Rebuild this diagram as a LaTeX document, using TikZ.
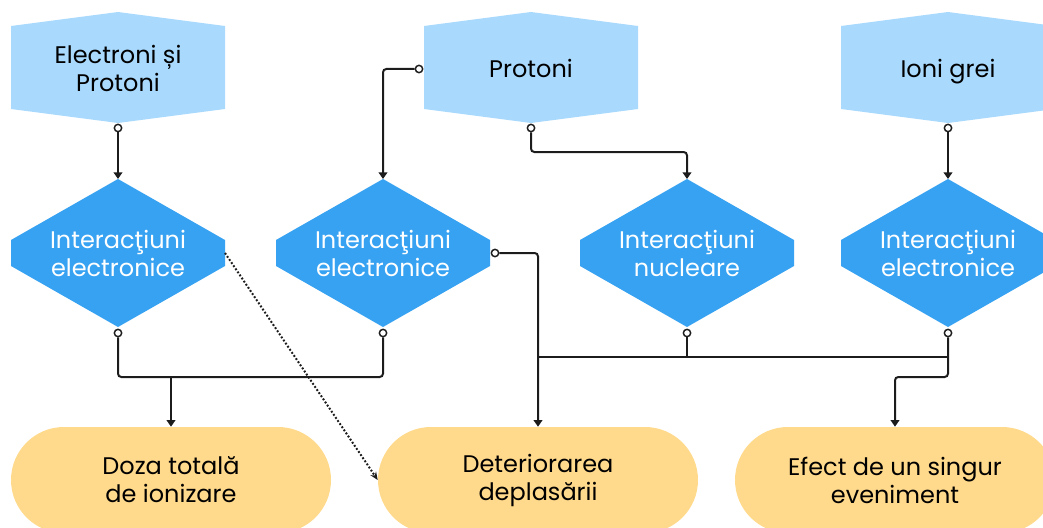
\documentclass[tikz,border=0pt]{standalone}
\usepackage{fontspec}
\setmainfont{Poppins}
\usetikzlibrary{calc,arrows.meta}
\definecolor{toplight}{RGB}{169,218,254}
\definecolor{hexblue}{RGB}{55,162,242}
\definecolor{outyellow}{RGB}{255,218,140}
\definecolor{linegray}{RGB}{28,28,28}
\def\topbox(#1,#2)#3#4{\fill[toplight] (#1-107,#2-42) -- (#1,#2-56) -- (#1+107,#2-42) -- (#1+107,#2+41) -- (#1,#2+55) -- (#1-107,#2+41) -- cycle;
	\node[toptext] (#3) at (#1,#2) {#4};}
\def\hexbox(#1,#2)#3#4{\fill[hexblue] (#1-107,#2-13) -- (#1,#2-74) -- (#1+107,#2-13) -- (#1+107,#2+13) -- (#1,#2+74) -- (#1-107,#2+13) -- cycle;
	\node[hextext] (#3) at (#1,#2) {#4};
	\coordinate (#3-t) at (#1,#2-74);}

\begin{document}
\begin{tikzpicture}[x=0.75pt, y=-0.75pt,
	every node/.style={font=\fontsize{18}{21}\selectfont},
	toptext/.style={align=center, text=black},
	hextext/.style={align=center, text=white},
	outbox/.style={fill=outyellow, rounded corners=39.75pt, minimum width=240pt, minimum height=79.5pt, align=center},
	line/.style={line width=1.5pt, color=linegray, rounded corners=2.5pt},
	arr/.style={line, -{Triangle[length=5pt,width=6.5pt]}},
	ring/.style={circle, draw=linegray, line width=1.1pt, fill=white, inner sep=0pt, minimum size=5.5pt},
	dots/.style={line width=1.5pt, dash pattern=on 1.4pt off 1.4pt, color=linegray, -{Stealth[length=6pt,width=5pt]}}]
		%%%%% START %%%%%
		\clip (0,0) rectangle (1043,528);
		
		\topbox(118,68){s1}{Electroni și\\Protoni}
		\topbox(531,68){s2}{Protoni}
		\topbox(948,68){s3}{Ioni \smash{g}rei}
		
		\hexbox(118,253){d1}{Interacţiuni\\electronice}
		\hexbox(383,253){d2}{Interacţiuni\\electronice}
		\hexbox(687,253){d3}{Interacţiuni\\nucleare}
		\hexbox(948,253){d4}{Interacţiuni\\electronice}
		
		\node[outbox] (b1) at (171,480) {Doza totală\\de ionizare};
		\node[outbox] (b2) at (538,480) {Deteriorarea\\deplasării};
		\node[outbox] (b3) at (895,480) {Efect de un singur\\eveniment};
		
		\node[ring] (s1o) at (118,128) {};
		\node[ring] (s2l) at (419,69) {};
		\node[ring] (s2o) at (531,128) {};
		\node[ring] (s3o) at (948,128) {};
		\node[ring] (d1o) at (118,333) {};
		\node[ring] (d2o) at (383,333) {};
		\node[ring] (d2r) at (495,253) {};
		\node[ring] (d3o) at (687,333) {};
		\node[ring] (d4o) at (948,333) {};
		
		\coordinate (k1) at (531,152);
		\coordinate (k2) at (118,377);
		\coordinate (k3) at (948,377);
		\coordinate (m1) at (171,377);
		\coordinate (m2) at (538,357);
		\coordinate (m3) at (948,357);
		\coordinate (d1-r) at (225,253);
		
		\draw[arr] (s1o) -- (d1-t);
		\draw[arr] (s2l) -| (d2-t);
		\draw[arr] (s2o) -- (k1) -| (d3-t);
		\draw[arr] (s3o) -- (d4-t);
		
		\draw[line] (d1o) -- (k2) -| (d2o);
		\draw[arr] (m1) -- (b1);
		\draw[arr] (d2r) -| (b2);
		\draw[line] (m2) -- (m3);
		\draw[line] (d3o) -- (d3o |- m2);
		\draw[arr] (d4o) -- (k3) -| (b3);
		
		\draw[dots] (d1-r) -- (b2.west);
		
		%%%%% END %%%%%
\end{tikzpicture}
\end{document}
